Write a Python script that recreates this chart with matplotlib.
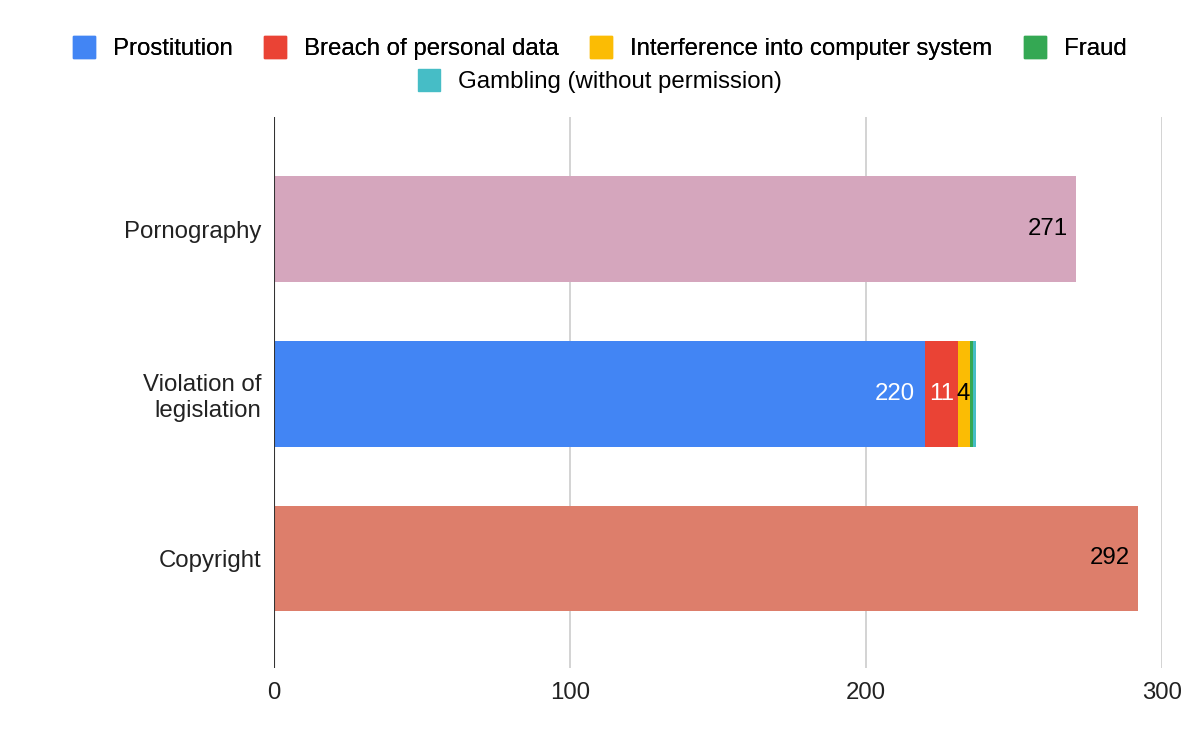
import matplotlib
matplotlib.use("Agg")
import matplotlib.pyplot as plt
from matplotlib.patches import Patch

plt.rcParams['font.family'] = ['Liberation Sans', 'DejaVu Sans']

# categories from top to bottom
categories = ['Pornography', 'Violation of\nlegislation', 'Copyright']

# single-series bars
pornography = 271
copyright_ = 292

# stacked segments of "Violation of legislation"
seg_names = ['Prostitution', 'Breach of personal data', 'Interference into computer system',
             'Fraud', 'Gambling (without permission)']
seg_values = [220, 11, 4, 1, 1]
seg_colors = ['#4285f4', '#ea4335', '#fbbc04', '#34a853', '#46bdc6']
seg_label_colors = ['white', 'white', 'black', None, None]
seg_label_pad = [-10, -4, 0, 0, 0]

fs = 17.3
fig = plt.figure(figsize=(12, 7.42), dpi=100)
ax = fig.add_axes([274 / 1200, 1 - 668 / 742, (1162 - 274) / 1200, (668 - 117) / 742])

ypos = {'Pornography': 2, 'Violation of\nlegislation': 1, 'Copyright': 0}
h = 0.643

# pornography / copyright
ax.barh(ypos['Pornography'], pornography, height=h, color='#d5a6bd', zorder=2)
ax.barh(ypos['Copyright'], copyright_, height=h, color='#dd7e6b', zorder=2)
ax.annotate(str(pornography), (pornography, ypos['Pornography']), xytext=(-8, 0),
            textcoords='offset pixels', ha='right', va='center', fontsize=fs, color='black', zorder=3)
ax.annotate(str(copyright_), (copyright_, ypos['Copyright']), xytext=(-8, 0),
            textcoords='offset pixels', ha='right', va='center', fontsize=fs, color='black', zorder=3)

# stacked bar
left = 0
handles = []
for name, val, col, lc, pad in zip(seg_names, seg_values, seg_colors, seg_label_colors, seg_label_pad):
    ax.barh(ypos['Violation of\nlegislation'], val, left=left, height=h, color=col, zorder=2)
    if lc is not None:
        ax.annotate(str(val), (left + val, 1), xytext=(pad, 0), textcoords='offset pixels',
                    ha='right', va='center', fontsize=fs, color=lc, zorder=3)
    left += val
    handles.append(Patch(facecolor=col, edgecolor=col, label=name))

ax.set_xlim(0, 300)
ax.set_ylim(-0.665, 2.68)
ax.set_xticks([0, 100, 200, 300])
ax.set_yticks([ypos[c] for c in categories])
ax.set_yticklabels(categories, fontsize=fs, color='#222222', multialignment='right')
ax.tick_params(axis='x', length=0, pad=10, labelsize=fs, labelcolor='#222222')
ax.tick_params(axis='y', length=0, pad=9)
ax.grid(axis='x', color='#cccccc', linewidth=1.2, zorder=0)
ax.axvline(0, color='#333333', linewidth=1.5, zorder=4)
for s in ax.spines.values():
    s.set_visible(False)

leg_kw = dict(frameon=False, fontsize=fs, handlelength=0.92, handleheight=1.0,
              handletextpad=0.75, columnspacing=1.3, borderpad=0, borderaxespad=0)
leg1 = fig.legend(handles=handles[:4], ncol=4, loc='center', bbox_to_anchor=(0.5, 1 - 48 / 742), **leg_kw)
fig.add_artist(leg1)
fig.legend(handles=handles[4:], ncol=1, loc='center', bbox_to_anchor=(0.5, 1 - 81 / 742), **leg_kw)

fig.savefig('out.png', dpi=100)
